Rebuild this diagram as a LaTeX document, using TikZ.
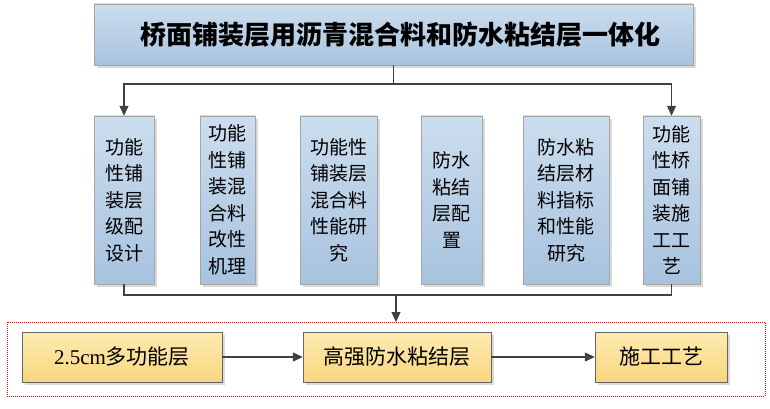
\documentclass[tikz,border=0pt]{standalone}
\usepackage{fontspec}
\setmainfont{Liberation Serif}
\newfontfamily\cjk{Noto Sans CJK SC}
\usetikzlibrary{shadows,arrows.meta}
\definecolor{bluetop}{HTML}{CCDDEE}
\definecolor{bluebot}{HTML}{A8C3DF}
\definecolor{yeltop}{HTML}{FDEBB0}
\definecolor{yelbot}{HTML}{F8D680}
\begin{document}
\begin{tikzpicture}[x=1pt,y=-1pt,
    bluebox/.style={draw=gray!70,top color=bluetop,bottom color=bluebot,drop shadow={opacity=0.3,shadow xshift=3pt,shadow yshift=-3pt},inner sep=0pt,align=center},
    yelbox/.style={draw=gray!80!black,top color=yeltop,bottom color=yelbot,drop shadow={opacity=0.3,shadow xshift=3pt,shadow yshift=-3pt},inner sep=0pt,font=\fontsize{21}{24}\selectfont},
    colbox/.style={bluebox,font=\cjk\fontsize{19}{26.5}\selectfont},
    link/.style={draw=black!75,line width=1.2pt},
    tip/.style={-{Triangle[length=10pt,width=9pt]}}]
  \useasboundingbox (0,0) rectangle (770,409);
  % title
  \node[bluebox,minimum width=599pt,minimum height=61pt,font=\cjk\bfseries\fontsize{26}{30}\selectfont,text width=599pt] (title) at (393.5,34.5) {\hspace*{14pt}桥面铺装层用沥青混合料和防水粘结层一体化};
  % columns
  \node[colbox,minimum width=60pt,minimum height=168pt] (c1) at (124,200) {功能\\性铺\\装层\\级配\\设计};
  \node[colbox,minimum width=55pt,minimum height=168pt] (c2) at (227.5,200) {功能\\性铺\\装混\\合料\\改性\\机理};
  \node[colbox,minimum width=77pt,minimum height=168pt] (c3) at (338.5,200) {功能性\\铺装层\\混合料\\性能研\\究};
  \node[colbox,minimum width=61pt,minimum height=168pt] (c4) at (451.5,200) {防水\\粘结\\层配\\置};
  \node[colbox,minimum width=86pt,minimum height=168pt] (c5) at (566,200) {防水粘\\结层材\\料指标\\和性能\\研究};
  \node[colbox,minimum width=57pt,minimum height=168pt] (c6) at (671.5,200) {功能\\性桥\\面铺\\装施\\工工\\艺};
  % bottom row
  \draw[red,densely dotted,line width=1pt] (7,322) rectangle (765,396);
  \node[yelbox,minimum width=200pt,minimum height=50pt] (b1) at (122,357) {2.5cm{\cjk 多功能层}};
  \node[yelbox,minimum width=188pt,minimum height=50pt] (b2) at (397,357) {\cjk 高强防水粘结层};
  \node[yelbox,minimum width=132pt,minimum height=50pt] (b3) at (661,357) {\cjk 施工工艺};
  \coordinate (top) at (393.5,84);
  \coordinate (bot) at (396,295);
  % connectors
  \draw[link] (title.south) -- (top);
  \draw[link,tip] (top) -| (c1.north);
  \draw[link,tip] (top) -| (c6.north);
  \draw[link] (c1.south) |- (bot) -| (c6.south);
  \draw[link,tip] (bot) -- (bot|-0,322);
  \draw[link,tip] (b1) -- (b2);
  \draw[link,tip] (b2) -- (b3);
\end{tikzpicture}
\end{document}
